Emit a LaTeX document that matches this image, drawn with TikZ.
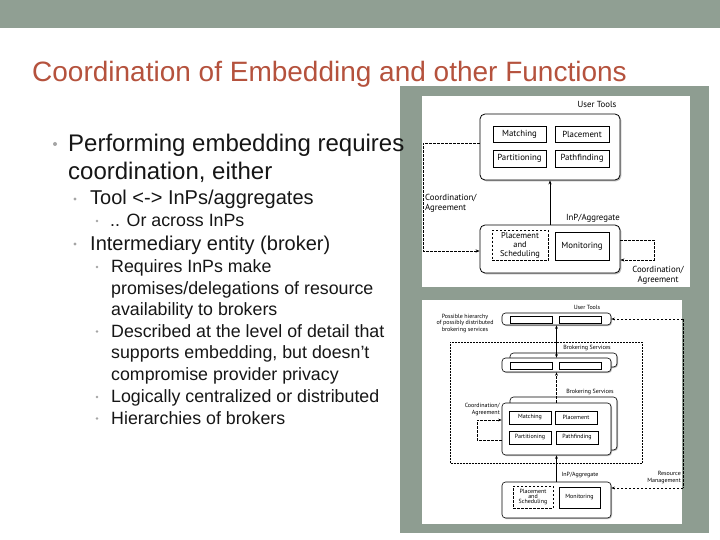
\documentclass[tikz,border=0pt]{standalone}
\usepackage{fontspec}
\setmainfont{Liberation Sans}
\newfontfamily\dfont{PT Sans}
\usetikzlibrary{arrows.meta,shadows}
\definecolor{band}{RGB}{144,159,147}
\definecolor{panel}{RGB}{142,157,145}
\definecolor{titlec}{RGB}{181,82,61}
\definecolor{txt}{RGB}{22,22,22}
\definecolor{bul}{RGB}{165,165,165}
\tikzset{
  lone/.style={anchor=base west,inner sep=0,text=txt,font=\fontsize{24}{28}\selectfont},
  ltwo/.style={anchor=base west,inner sep=0,text=txt,font=\fontsize{20}{24}\selectfont},
  lthree/.style={anchor=base west,inner sep=0,text=txt,font=\fontsize{17.8}{21}\selectfont},
  bigf/.style={font=\dfont\fontsize{8.8}{9.6}\selectfont},
  psf/.style={font=\dfont\fontsize{8.4}{8.6}\selectfont},
  smallf/.style={font=\dfont\fontsize{6}{6.4}\selectfont},
  ibox/.style={draw,line width=0.6pt,fill=white,inner sep=0,align=center},
  rbox/.style={draw,line width=0.8pt,fill=white,rounded corners=5pt,inner sep=0,
    drop shadow={shadow xshift=1.3pt,shadow yshift=-1.3pt,opacity=0.55}},
  rboxs/.style={draw,line width=0.6pt,fill=white,rounded corners=3.5pt,inner sep=0,
    drop shadow={shadow xshift=1pt,shadow yshift=-1pt,opacity=0.5}},
  dline/.style={dashed,dash pattern=on 2.5pt off 1.5pt,line width=0.6pt},
  arr/.style={-{Stealth[length=4pt,width=3.2pt]}},
  lbl/.style={inner sep=0,text=black}
}
\begin{document}
\begin{tikzpicture}[x=1pt,y=-1pt]
\useasboundingbox (0,0) rectangle (720,540);
\fill[white] (0,0) rectangle (720,540);
\fill[band] (0,0) rectangle (720,28.5);
% title
\node[anchor=base west,inner sep=0,text=titlec,font=\fontsize{28}{32}\selectfont] (title) at (32,82) {Coordination of Embedding and other Functions};
% picture panel
\fill[panel] (400,86) rectangle (709,533);
\fill[white] (422,96) rectangle (690,287);
\fill[white] (422,300) rectangle (682,524);
% left text
\fill[bul] (55,144) circle (2pt);
\node[lone] (t1) at (68,151.5) {Performing embedding requires};
\node[lone] (t2) at (68,180) {coordination, either};
\fill[bul] (75,199) circle (1.6pt);
\node[ltwo] (t3) at (90,205) {Tool <-> InPs/aggregates};
\fill[bul] (97,221) circle (1.4pt);
\node[lthree] (t4) at (110,226) {.. Or across InPs};
\fill[bul] (75,244) circle (1.6pt);
\node[ltwo] (t5) at (90,250) {Intermediary entity (broker)};
\fill[bul] (97,267) circle (1.4pt);
\node[lthree] (t6) at (111,272.7) {Requires InPs make};
\node[lthree] (t7) at (111,294) {promises/delegations of resource};
\node[lthree] (t8) at (111,315.5) {availability to brokers};
\fill[bul] (97,331.5) circle (1.4pt);
\node[lthree] (t9) at (111,337.3) {Described at the level of detail that};
\node[lthree] (t10) at (111,358.7) {supports embedding, but doesn’t};
\node[lthree] (t11) at (111,380) {compromise provider privacy};
\fill[bul] (97,397) circle (1.4pt);
\node[lthree] (t12) at (111,402.7) {Logically centralized or distributed};
\fill[bul] (97,418.5) circle (1.4pt);
\node[lthree] (t13) at (111,424) {Hierarchies of brokers};

% ===== top figure =====
\node[bigf,lbl] (ut1) at (597,104) {User Tools};
\node[rbox,minimum width=140pt,minimum height=66pt] (ubox) at (550,147) {};
\node[ibox,bigf,minimum width=53pt,minimum height=16.5pt] (m1) at (519.5,134.5) {Matching};
\node[ibox,bigf,minimum width=54pt,minimum height=16.5pt] (p1) at (582,134.5) {Placement};
\node[ibox,bigf,minimum width=53pt,minimum height=17pt] (pa1) at (519.5,158.5) {Partitioning};
\node[ibox,bigf,minimum width=54pt,minimum height=17pt] (pf1) at (582,158.5) {Pathfinding};
\node[rbox,minimum width=140pt,minimum height=48pt] (lbox) at (550,249) {};
\node[ibox,psf,dline,minimum width=56pt,minimum height=30pt] (ps1) at (520,245.5) {Placement\\and\\Scheduling};
\node[ibox,bigf,minimum width=54pt,minimum height=28pt] (mo1) at (582,246) {Monitoring};
\draw[arr,line width=0.7pt] (lbox.north) -- (ubox.south);
\node[bigf,lbl,anchor=base east] (ia1) at (620,221) {InP/Aggregate};
\coordinate (cl) at (423,251);
\draw[dline,arr] ([yshift=4pt]ubox.west) -| (cl) -- ([yshift=-2pt]lbox.west);
\node[bigf,lbl,align=left,anchor=west] (ca1) at (425,203.5) {Coordination/\\Agreement};
\coordinate (cr) at (654,260);
\draw[dline,arr] ([yshift=9pt]lbox.east) -| (cr) -- ([yshift=-11pt]lbox.east);
\node[bigf,lbl,align=center] (ca2) at (658,275) {Coordination/\\Agreement};

% ===== bottom figure =====
\node[smallf,lbl] (ut2) at (587,307) {User Tools};
\node[rboxs,minimum width=109pt,minimum height=12pt] (tb) at (556.5,319) {};
\node[ibox,line width=0.5pt,minimum width=42pt,minimum height=7pt] (tbl) at (531,319.5) {};
\node[ibox,line width=0.5pt,minimum width=42pt,minimum height=7pt] (tbr) at (580,319.5) {};
\node[smallf,lbl,align=center] (ph) at (465,323.5) {Possible hierarchy\\of possibly distributed\\brokering services};
\draw[densely dotted,line width=0.5pt] (450,342) rectangle (642,463);
\node[smallf,lbl] (bs1) at (587,348) {Brokering Services};
\node[rboxs,minimum width=107pt,minimum height=14pt] (mb2) at (563.5,360) {};
\node[rboxs,minimum width=109pt,minimum height=14pt] (mb) at (556.5,365) {};
\node[ibox,line width=0.5pt,minimum width=42pt,minimum height=7pt] (mbl) at (531,365.5) {};
\node[ibox,line width=0.5pt,minimum width=42pt,minimum height=7pt] (mbr) at (580,365.5) {};
\draw[{Stealth[length=3.5pt,width=2.8pt]}-{Stealth[length=3.5pt,width=2.8pt]},line width=0.6pt] (tb.south) -- (mb.north);
\node[smallf,lbl] (bs2) at (590,392) {Brokering Services};
\node[rboxs,minimum width=107pt,minimum height=53pt] (bb2) at (563.5,423.5) {};
\node[rboxs,minimum width=109pt,minimum height=52pt] (bb) at (556.5,429) {};
\node[ibox,smallf,minimum width=42pt,minimum height=13pt] (m2) at (530,417.5) {Matching};
\node[ibox,smallf,minimum width=42pt,minimum height=13pt] (p2) at (576,417.5) {Placement};
\node[ibox,smallf,minimum width=42pt,minimum height=13pt] (pa2) at (530,437.5) {Partitioning};
\node[ibox,smallf,minimum width=42pt,minimum height=13pt] (pf2) at (577,437.5) {Pathfinding};
\draw[dline,line width=0.5pt,-{Stealth[length=3.5pt,width=2.8pt]}] (bb.north) -- (mb.south);
\node[smallf,lbl,align=right,anchor=east] (ca3) at (500,409.5) {Coordination/\\Agreement};
\coordinate (bl) at (477,420);
\draw[dline,line width=0.5pt,-{Stealth[length=3.5pt,width=2.8pt]}] ([yshift=-11pt]bb.west) -| (bl) -- ([yshift=9pt]bb.west);
\node[rboxs,minimum width=109pt,minimum height=36pt] (lb2) at (556.5,500) {};
\node[ibox,smallf,dline,line width=0.5pt,minimum width=40pt,minimum height=22pt] (ps2) at (533,497) {Placement\\[-1pt]and\\[-1pt]Scheduling};
\node[ibox,smallf,minimum width=41pt,minimum height=21pt] (mo2) at (579.5,497.5) {Monitoring};
\draw[line width=0.6pt,-{Stealth[length=3.5pt,width=2.8pt]}] (lb2.north) -- (bb.south);
\node[smallf,lbl] (ia2) at (580,475) {InP/Aggregate};
\node[smallf,lbl,align=right,anchor=east] (rm) at (681,477.5) {Resource\\Management};
\coordinate (rt) at (683,319);
\coordinate (rb) at (683,488);
\draw[dline,line width=0.5pt] (rt) -- (rb);
\draw[dline,line width=0.5pt,-{Stealth[length=3.5pt,width=2.8pt]}] (rt) -- (tb.east);
\draw[dline,line width=0.5pt,-{Stealth[length=3.5pt,width=2.8pt]}] (rb) -- ([yshift=12pt]lb2.east);
\end{tikzpicture}
\end{document}
